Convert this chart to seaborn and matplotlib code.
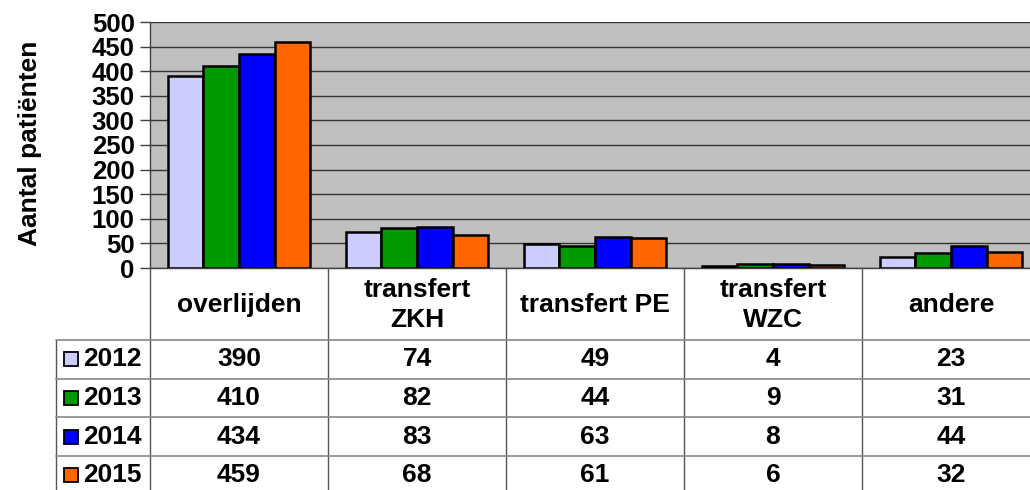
import pandas as pd
import matplotlib.pyplot as plt
import seaborn as sns
from matplotlib.lines import Line2D
from matplotlib.patches import Rectangle

categories = ['overlijden', 'transfert\nZKH', 'transfert PE', 'transfert\nWZC', 'andere']
years = ['2012', '2013', '2014', '2015']
v2012 = [390, 74, 49, 4, 23]
v2013 = [410, 82, 44, 9, 31]
v2014 = [434, 83, 63, 8, 44]
v2015 = [459, 68, 61, 6, 32]
colors = ['#CCCCFF', '#009900', '#0000FF', '#FF6600']

rows = []
for year, vals in zip(years, [v2012, v2013, v2014, v2015]):
    for cat, v in zip(categories, vals):
        rows.append({'cat': cat, 'year': year, 'value': v})
df = pd.DataFrame(rows)

sns.set_style('white')
plt.rcParams['font.family'] = ['Liberation Sans', 'DejaVu Sans']
plt.rcParams['font.weight'] = 'bold'
plt.rcParams['text.color'] = 'black'
plt.rcParams['ytick.labelcolor'] = 'black'

W, H = 1030, 490
FS = 19
fig = plt.figure(figsize=(W / 100, H / 100), dpi=100)
fig.patch.set_facecolor('white')

# plot area in pixels
left, top, bottom = 150, 22, 268
colw = 178
right = left + colw * len(categories)
ax = fig.add_axes([left / W, 1 - bottom / H, (right - left) / W, (bottom - top) / H])
ax.set_facecolor('#C0C0C0')

sns.barplot(data=df, x='cat', y='value', hue='year', palette=colors,
            order=categories, hue_order=years, width=0.8,
            edgecolor='black', linewidth=1.8, saturation=1, ax=ax, legend=False, zorder=3)

ax.set_ylim(0, 500)
ax.set_xlim(-0.5, len(categories) - 0.5)
ax.set_yticks(range(0, 501, 50))
ax.yaxis.grid(True, color='#333333', linewidth=1, zorder=0)
ax.set_axisbelow(True)
ax.tick_params(axis='y', direction='out', length=7, width=1, color='#404040',
               labelsize=18.5, pad=4, left=True, labelcolor='black')
for lbl in ax.get_yticklabels():
    lbl.set_fontweight('bold')
ax.set_xticks([])
ax.set_xlabel('')
ax.set_ylabel('')
for s in ['top', 'right']:
    ax.spines[s].set_visible(False)
ax.spines['left'].set_color('#404040')
ax.spines['bottom'].set_color('#404040')
ax.spines['left'].set_linewidth(1)
ax.spines['bottom'].set_linewidth(1)

fig.text(30 / W, 1 - 143 / H, 'Aantal patiënten', rotation=90, ha='center', va='center',
         fontsize=FS, fontweight='bold', color='black')

# data table
def fx(x):
    return x / W

def fy(y):
    return 1 - y / H

header_bottom = 340
row_h = 38.7
leg_left = 56
grid = '#555555'

# vertical column lines
for i in range(len(categories) + 1):
    x = left + i * colw
    fig.add_artist(Line2D([fx(x), fx(x)], [fy(bottom), fy(H + 5)], color=grid, lw=1))
fig.add_artist(Line2D([fx(leg_left), fx(leg_left)], [fy(header_bottom), fy(H + 5)], color=grid, lw=1))

# horizontal row lines
for r in range(len(years)):
    y = header_bottom + r * row_h
    fig.add_artist(Line2D([fx(leg_left), fx(right)], [fy(y), fy(y)], color='#888888', lw=1.2))

# header text
for i, cat in enumerate(categories):
    cx = left + (i + 0.5) * colw
    fig.text(fx(cx), fy((bottom + header_bottom) / 2 + 1), cat, ha='center', va='center',
             fontsize=FS, fontweight='bold', linespacing=1.3, color='black')

# rows
for r, (year, vals) in enumerate(zip(years, [v2012, v2013, v2014, v2015])):
    cy = header_bottom + (r + 0.5) * row_h
    fig.add_artist(Rectangle((fx(64), fy(cy + 7)), 14 / W, 14 / H, facecolor=colors[r],
                             edgecolor='black', lw=1.3))
    fig.text(fx(83), fy(cy), year, ha='left', va='center', fontsize=FS, fontweight='bold',
             color='black')
    for i, v in enumerate(vals):
        cx = left + (i + 0.5) * colw
        fig.text(fx(cx), fy(cy), str(v), ha='center', va='center', fontsize=FS,
                 fontweight='bold', color='black')

plt.savefig('out.png', dpi=100)
plt.close()
